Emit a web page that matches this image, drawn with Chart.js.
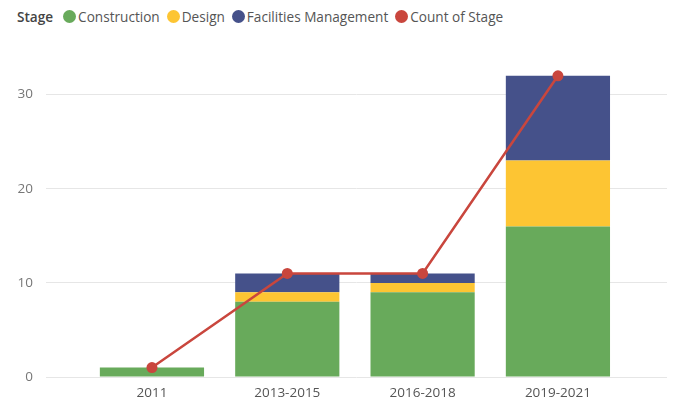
<!DOCTYPE html>
<html>
<head>
<meta charset="utf-8">
<script src="https://cdn.jsdelivr.net/npm/chart.js@4.4.0/dist/chart.umd.min.js"></script>
<style>
  html, body { margin: 0; padding: 0; background: #fff; }
  #wrap { position: relative; width: 675px; height: 404px; }
  #legend { position: absolute; left: 17px; top: 6px; height: 20px; display: flex; align-items: center;
            font-family: "Open Sans", "Noto Sans", sans-serif; font-size: 13.6px; color: #555; white-space: nowrap; }
  #legend .title { font-weight: 600; color: #444; margin-right: 10px; }
  #legend .item { display: flex; align-items: center; margin-right: 7px; }
  #legend .dot { width: 13px; height: 13px; border-radius: 50%; margin-right: 2px; }
  canvas { position: absolute; left: 0; top: 0; }
</style>
</head>
<body>
<div id="wrap">
  <div id="legend"></div>
  <canvas id="c" width="675" height="404"></canvas>
</div>
<script>
const legendTitle = "Stage";
const categories = ["2011", "2013-2015", "2016-2018", "2019-2021"];
const construction = [1, 8, 9, 16];
const design = [0, 1, 1, 7];
const facilities = [0, 2, 1, 9];
const countOfStage = [1, 11, 11, 32];
const yTicks = [0, 10, 20, 30];

const colors = {
  construction: "#68aa5b",
  design: "#fdc533",
  facilities: "#45518a",
  count: "#c9463d"
};

function pts(arr) { return arr.map((v, i) => ({ x: i, y: v })); }

const datasets = [
  { type: "bar", label: "Construction", data: pts(construction), backgroundColor: colors.construction, stack: "stage", order: 1 },
  { type: "bar", label: "Design", data: pts(design), backgroundColor: colors.design, stack: "stage", order: 1 },
  { type: "bar", label: "Facilities Management", data: pts(facilities), backgroundColor: colors.facilities, stack: "stage", order: 1 },
  { type: "line", label: "Count of Stage", data: pts(countOfStage), borderColor: colors.count, backgroundColor: colors.count,
    borderWidth: 2.5, pointRadius: 5.5, pointHoverRadius: 5.5, pointBorderWidth: 0, tension: 0, stack: "count", order: 0 }
];

// HTML legend
const lg = document.getElementById("legend");
const t = document.createElement("span"); t.className = "title"; t.textContent = legendTitle; lg.appendChild(t);
datasets.forEach(ds => {
  const it = document.createElement("span"); it.className = "item";
  const d = document.createElement("span"); d.className = "dot"; d.style.background = ds.backgroundColor;
  const s = document.createElement("span"); s.textContent = ds.label;
  it.appendChild(d); it.appendChild(s); lg.appendChild(it);
});

new Chart(document.getElementById("c"), {
  data: { datasets },
  options: {
    responsive: false,
    animation: false,
    layout: { padding: { top: 57, right: 8, left: 0, bottom: 0 } },
    plugins: { legend: { display: false }, tooltip: { enabled: false } },
    datasets: { bar: { barPercentage: 0.77, categoryPercentage: 1 } },
    scales: {
      x: {
        type: "linear",
        offset: false,
        stacked: true,
        min: -0.783,
        max: 3.806,
        grid: { display: false, drawTicks: false },
        border: { display: false },
        afterBuildTicks: (s) => { s.ticks = categories.map((c, i) => ({ value: i })); },
        ticks: {
          autoSkip: false,
          maxRotation: 0,
          padding: 8,
          color: "#555",
          font: { family: "'Open Sans', 'Noto Sans', sans-serif", size: 13.5 },
          callback: (v) => categories[v] ?? ""
        },
        afterFit: (s) => { s.height = 27; }
      },
      y: {
        stacked: true,
        min: 0,
        max: 34,
        grid: { color: "#e6e6e6", lineWidth: 1, drawTicks: false },
        border: { display: false },
        afterBuildTicks: (s) => { s.ticks = yTicks.map(v => ({ value: v })); },
        ticks: {
          padding: 13,
          color: "#777",
          font: { family: "'Open Sans', 'Noto Sans', sans-serif", size: 13.5 }
        },
        afterFit: (s) => { s.width = 46; }
      }
    }
  }
});
</script>
</body>
</html>
